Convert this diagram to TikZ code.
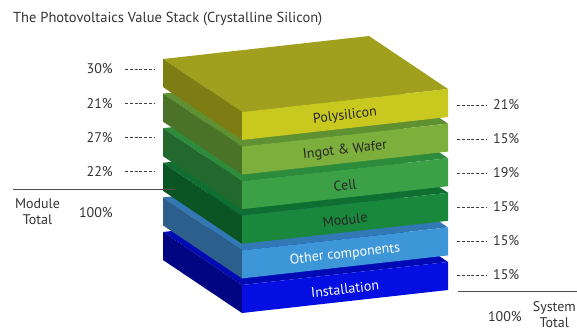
\documentclass[tikz,border=0pt]{standalone}
\usepackage{fontspec}
\setmainfont{PT Sans}
\definecolor{polyT}{HTML}{A0A01E}\definecolor{polyF}{HTML}{C8C81E}\definecolor{polyL}{HTML}{7D7D14}
\definecolor{ingT}{HTML}{5F9132}\definecolor{ingF}{HTML}{7DAF3C}\definecolor{ingL}{HTML}{4B7328}
\definecolor{cellT}{HTML}{2D8C3C}\definecolor{cellF}{HTML}{3CA046}\definecolor{cellL}{HTML}{23692D}
\definecolor{modT}{HTML}{0F6E32}\definecolor{modF}{HTML}{19873C}\definecolor{modL}{HTML}{0A5523}
\definecolor{othT}{HTML}{3278B4}\definecolor{othF}{HTML}{3C96D7}\definecolor{othL}{HTML}{2D5F8C}
\definecolor{insT}{HTML}{000AB4}\definecolor{insF}{HTML}{050FE1}\definecolor{insL}{HTML}{000582}
\newcommand\pvslab[7]{%
  \begin{scope}[shift={(0,#1)}]
    \fill[#2] (163,59) -- (242,112) -- (448,89) -- (369,36) -- cycle;
    \fill[#3] (163,59) -- (242,112) -- (242,140) -- (163,87) -- cycle;
    \fill[#4] (242,112) -- (448,89) -- (448,117) -- (242,140) -- cycle;
    \node[slabtxt, text=#7] (#5) at (345,116) {#6};
  \end{scope}}
\begin{document}
\begin{tikzpicture}[x=1pt,y=-1pt,
  lbl/.style={font=\fontsize{14}{16}\selectfont, text=black!80, inner sep=0},
  slabtxt/.style={font=\fontsize{14}{16}\selectfont, rotate=6.37, inner sep=0},
  dsh/.style={draw=black!75, line width=0.8pt, dash pattern=on 3pt off 1.8pt},
  rule/.style={draw=black!70, line width=0.9pt}]
\useasboundingbox (0,0) rectangle (577,331);
\node[font=\fontsize{14.5}{17}\selectfont, text=black!80, anchor=west, inner sep=0] (title) at (13,18.5) {The Photovoltaics Value Stack (Crystalline Silicon)};
% slabs, bottom first
\pvslab{173}{insT}{insL}{insF}{ins}{Installation}{white}
\pvslab{138.4}{othT}{othL}{othF}{oth}{Other components}{white}
\pvslab{103.8}{modT}{modL}{modF}{mod}{Module}{black!85}
\pvslab{69.2}{cellT}{cellL}{cellF}{cell}{Cell}{black!85}
\pvslab{34.6}{ingT}{ingL}{ingF}{ing}{Ingot \& Wafer}{black!85}
\pvslab{0}{polyT}{polyL}{polyF}{poly}{Polysilicon}{black!85}
% left labels
\foreach \v/\y/\n in {30\%/69/l1, 21\%/103.3/l2, 27\%/137.7/l3, 22\%/171.7/l4}{
  \node[lbl, anchor=east] (\n) at (113,\y) {\v};
  \coordinate (\n a) at (125,\y);
  \coordinate (\n b) at (155,\y);
  \draw[dsh] (\n a) -- (\n b);
}
% right labels
\foreach \v/\y/\n in {21\%/105/r1, 15\%/139/r2, 19\%/173/r3, 15\%/207/r4, 15\%/241/r5, 15\%/275/r6}{
  \node[lbl, anchor=west] (\n) at (493,\y) {\v};
  \coordinate (\n a) at (457,\y);
  \coordinate (\n b) at (486,\y);
  \draw[dsh] (\n a) -- (\n b);
}
% module total
\coordinate (mtA) at (13,189);
\coordinate (mtB) at (175,189);
\draw[rule] (mtA) -- (mtB);
\node[lbl, align=center] (mt) at (37.5,212) {Module\\Total};
\node[lbl, anchor=east] (mtv) at (113,212.5) {100\%};
% system total
\coordinate (stA) at (458,291);
\coordinate (stB) at (577,291);
\draw[rule] (stA) -- (stB);
\node[lbl, anchor=east] (stv) at (522,317) {100\%};
\node[lbl, align=center, anchor=north east] (st) at (576,301) {System\\Total};
\end{tikzpicture}
\end{document}
